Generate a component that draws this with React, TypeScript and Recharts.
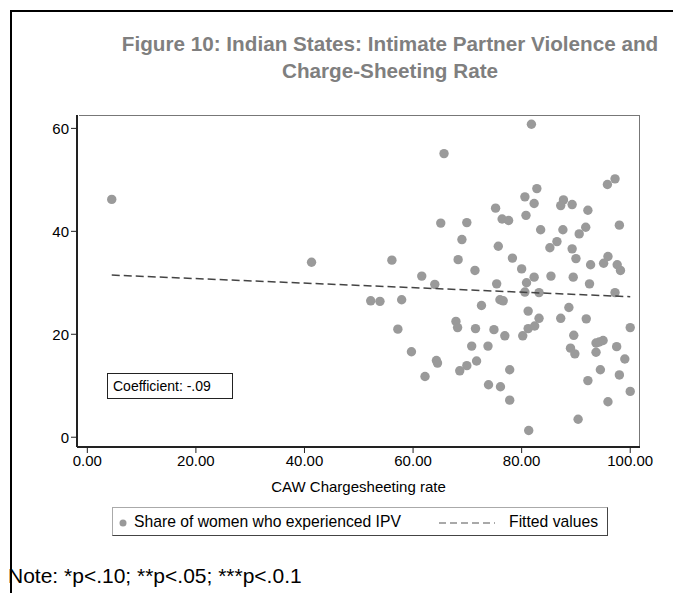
import { ScatterChart, Scatter, XAxis, YAxis } from 'recharts'

// CAW chargesheeting rate (x) and share of women who experienced IPV (y)
const rate = [
  4.5, 41.3, 81.8, 65.7, 97.2, 95.8, 82.8, 80.6, 82.3, 87.7, 87.2, 89.3, 75.2, 92.2, 80.8, 76.4,
  77.6, 65.1, 69.9, 98.0, 83.5, 87.6, 91.8, 90.6, 69.0, 86.5, 85.2, 75.7, 89.3, 56.1, 68.3, 78.3,
  90.0, 95.9, 95.1, 92.7, 97.6, 98.2, 71.4, 80.0, 61.6, 82.3, 85.4, 89.5, 64.0, 75.4, 80.9, 92.5,
  80.6, 83.2, 97.2, 52.2, 53.9, 57.9, 76.0, 76.6, 72.6, 81.2, 88.7, 83.2, 87.2, 91.9, 67.9, 68.2,
  57.2, 71.5, 74.9, 81.2, 82.4, 100.0, 76.9, 80.2, 89.6, 93.7, 95.0, 94.3, 70.8, 73.8, 89.0, 89.8,
  93.7, 97.5, 59.7, 99.0, 64.3, 64.5, 69.9, 71.7, 68.6, 77.8, 94.5, 62.2, 98.0, 92.2, 73.9, 76.1,
  100.0, 77.8, 95.9, 90.4, 81.3,
]
const ipv = [
  46.2, 34.0, 60.8, 55.1, 50.2, 49.1, 48.3, 46.7, 45.4, 46.1, 45.0, 45.2, 44.5, 44.1, 43.1, 42.4,
  42.1, 41.6, 41.7, 41.2, 40.3, 40.3, 40.8, 39.5, 38.4, 38.0, 36.8, 37.1, 36.6, 34.4, 34.5, 34.8,
  34.7, 35.1, 33.8, 33.5, 33.5, 32.4, 32.4, 32.7, 31.3, 31.1, 31.3, 31.1, 29.7, 29.8, 30.0, 29.8,
  28.2, 28.1, 28.1, 26.5, 26.4, 26.7, 26.7, 26.5, 25.6, 24.5, 25.2, 23.1, 23.1, 23.0, 22.5, 21.3,
  21.0, 21.1, 20.9, 21.1, 21.6, 21.3, 19.7, 19.7, 19.8, 18.3, 18.8, 18.5, 17.7, 17.7, 17.3, 16.2,
  16.5, 17.6, 16.6, 15.2, 14.9, 14.4, 13.9, 14.8, 12.9, 13.1, 13.1, 11.8, 12.1, 11.0, 10.2, 9.8,
  8.9, 7.2, 6.9, 3.5, 1.3,
]

// fitted values line endpoints
const fitX = [4.5, 100]
const fitY = [31.5, 27.3]

const xTicks = [0, 20, 40, 60, 80, 100]
const yTicks = [0, 20, 40, 60]

const points = rate.map((x, i) => ({ x, y: ipv[i] }))
const fitted = fitX.map((x, i) => ({ x, y: fitY[i] }))

const font = '"Liberation Sans", Arial, sans-serif'

export default function App() {
  return (
    <div style={{ position: 'absolute', left: 0, top: 0, width: 673, height: 593, overflow: 'hidden', fontFamily: font, background: '#fff' }}>
      {/* outer figure border (top + left only) */}
      <div style={{ position: 'absolute', left: 10, top: 10, width: 700, height: 600, borderTop: '2px solid #000', borderLeft: '2px solid #000' }} />

      <div style={{ position: 'absolute', left: 90, width: 600, top: 30, textAlign: 'center', color: '#7f7f7f', fontWeight: 'bold', fontSize: 20.7, lineHeight: '27px', whiteSpace: 'nowrap' }}>
        Figure 10: Indian States: Intimate Partner Violence and<br />Charge-Sheeting Rate
      </div>

      {/* plot region frame */}
      <div style={{ position: 'absolute', left: 79, top: 115, width: 561, height: 332, borderTop: '1px solid #777', borderRight: '1px solid #777', boxSizing: 'border-box' }} />

      <div style={{ position: 'absolute', left: 0, top: 0 }}>
        <ScatterChart width={673} height={593} margin={{ top: 115, right: 33, left: 39, bottom: 116 }}>
          <XAxis
            type="number"
            dataKey="x"
            domain={[-1.9, 101.8]}
            ticks={xTicks}
            allowDataOverflow
            tickFormatter={(v: number) => v.toFixed(2)}
            tick={{ fontSize: 15, fill: '#000', fontFamily: font }}
            axisLine={{ stroke: '#222', strokeWidth: 2 }}
            tickLine={{ stroke: '#222' }}
            tickSize={6}
            height={30}
            label={{ value: 'CAW Chargesheeting rate', position: 'insideBottom', offset: -15, fontSize: 15, fill: '#000', fontFamily: font }}
          />
          <YAxis
            type="number"
            dataKey="y"
            domain={[-1.9, 62.6]}
            ticks={yTicks}
            allowDataOverflow
            tick={{ fontSize: 15, fill: '#000', fontFamily: font }}
            axisLine={{ stroke: '#222', strokeWidth: 2 }}
            tickLine={{ stroke: '#222' }}
            tickSize={6}
            width={38}
          />
          <Scatter data={points} fill="#9a9a9a" isAnimationActive={false}
            shape={(p: any) => <circle cx={p.cx} cy={p.cy} r={4.7} fill="#9a9a9a" />} />
          <Scatter data={fitted} line={{ stroke: '#444', strokeWidth: 1.5, strokeDasharray: '8 4' }}
            isAnimationActive={false} shape={() => <g />} />
        </ScatterChart>
      </div>

      {/* coefficient box */}
      <div style={{ position: 'absolute', left: 107, top: 373, width: 126, height: 26, border: '1px solid #222', boxSizing: 'border-box', fontSize: 14, lineHeight: '24px', paddingLeft: 5, color: '#000' }}>
        Coefficient: -.09
      </div>

      {/* legend */}
      <div style={{ position: 'absolute', left: 112, top: 507, width: 496, height: 29, boxSizing: 'border-box', borderTop: '1px solid #aaa', borderLeft: '1px solid #aaa', borderRight: '1px solid #444', borderBottom: '1px solid #444', fontSize: 15.7, lineHeight: '27px', color: '#000', whiteSpace: 'nowrap' }}>
        <svg width={10} height={10} style={{ position: 'absolute', left: 5, top: 10 }}>
          <circle cx={5} cy={5} r={3.5} fill="#999" />
        </svg>
        <span style={{ position: 'absolute', left: 21 }}>Share of women who experienced IPV</span>
        <svg width={56} height={4} style={{ position: 'absolute', left: 326, top: 13 }}>
          <line x1={0} y1={2} x2={56} y2={2} stroke="#555" strokeWidth={1.2} strokeDasharray="7 4" />
        </svg>
        <span style={{ position: 'absolute', right: 9 }}>Fitted values</span>
      </div>

      <div style={{ position: 'absolute', left: 8, top: 564, fontSize: 21, color: '#000', whiteSpace: 'nowrap' }}>
        Note: *p&lt;.10; **p&lt;.05; ***p&lt;.0.1
      </div>
    </div>
  )
}
